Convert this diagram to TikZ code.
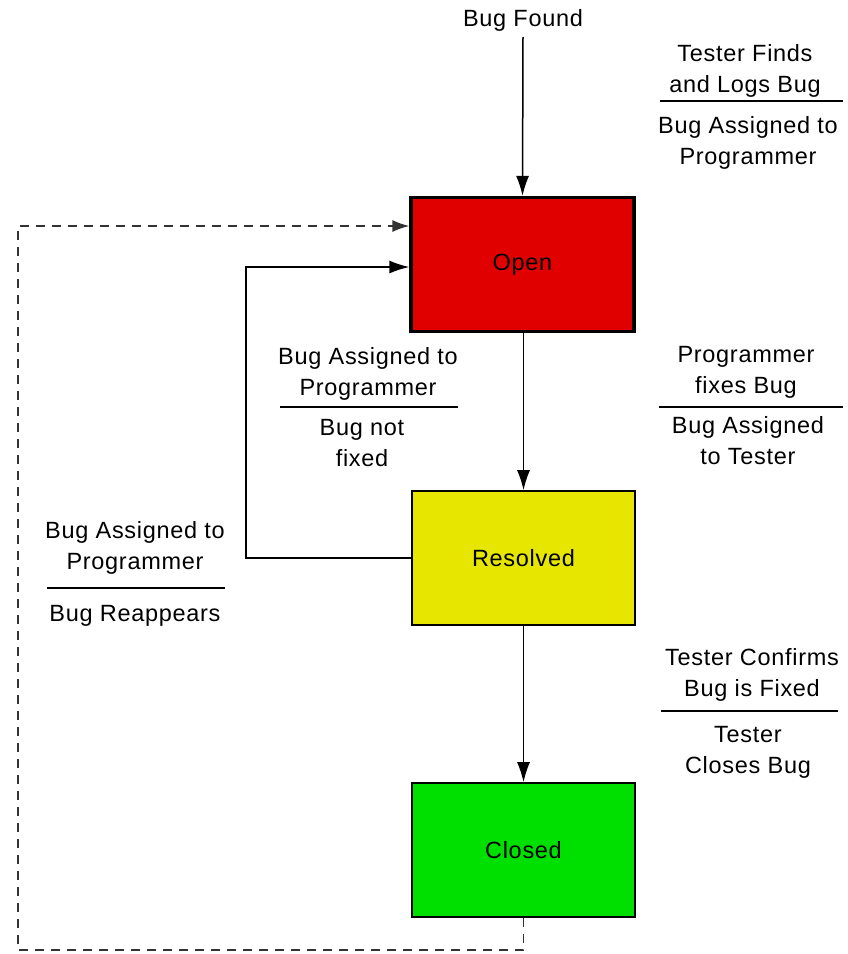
\documentclass[tikz,border=0pt]{standalone}
\usepackage{fontspec}
\setmainfont[LetterSpace=3]{Liberation Sans}
\usetikzlibrary{arrows.meta}
\definecolor{openred}{HTML}{E00000}
\definecolor{resyellow}{HTML}{E6E600}
\definecolor{closegreen}{HTML}{00E000}
\begin{document}
\begin{tikzpicture}[x=1pt,y=-1pt,
  txt/.style={font=\fontsize{23.5}{31}\selectfont},
  state/.style={txt, draw=black, line width=1.6pt, minimum width=223pt,
    minimum height=134pt, inner sep=0pt},
  lbl/.style={txt, align=center, inner sep=0pt},
  flow/.style={line width=1.5pt, -{Latex[length=20pt,width=13pt]}},
  dflow/.style={line width=1.6pt, black!80, dash pattern=on 9pt off 7pt,
    -{Latex[length=17pt,width=12pt]}},
  rule/.style={line width=1.3pt}]
\useasboundingbox (0,0) rectangle (847,954);

% states
\node[state, fill=openred, line width=3.2pt] (open) at (522.5,264.5) {Open};
\node[state, fill=resyellow] (resolved) at (523.5,558) {Resolved};
\node[state, fill=closegreen] (closed) at (523.5,850) {Closed};

% entry
\node[lbl] (found) at (523,20) {Bug Found};

% transitions
\draw[flow] ([yshift=-6pt]found.south) -- (open.north);
\draw[flow] (open.south -| resolved.north) -- (resolved.north);
\draw[flow] (resolved.south) -- (closed.north);
\draw[flow] (resolved.west) -- (246,558) |- ([yshift=-2.5pt]open.west);
\draw[dflow] (closed.south) |- (18,950) |- ([yshift=38.5pt]open.west);

% transition labels: event above the rule, action below
\node[lbl] (e1) at (745,71) {Tester Finds\\and Logs Bug};
\node[lbl] (a1) at (748,143) {Bug Assigned to\\Programmer};
\draw[rule] (660,101) -- (843,101);

\node[lbl] (e2) at (368,374) {Bug Assigned to\\Programmer};
\node[lbl] (a2) at (362,443) {Bug not\\fixed};
\draw[rule] (280,407) -- (458,407);

\node[lbl] (e3) at (746,372) {Programmer\\fixes Bug};
\node[lbl] (a3) at (748,441) {Bug Assigned\\to Tester};
\draw[rule] (659,407) -- (843,407);

\node[lbl] (e4) at (135,548) {Bug Assigned to\\Programmer};
\node[lbl] (a4) at (135,616) {Bug Reappears};
\draw[rule] (47,588) -- (225,588);

\node[lbl] (e5) at (752,675) {Tester Confirms\\Bug is Fixed};
\node[lbl] (a5) at (748,752) {Tester\\Closes Bug};
\draw[rule] (661,711) -- (838,711);
\end{tikzpicture}
\end{document}
